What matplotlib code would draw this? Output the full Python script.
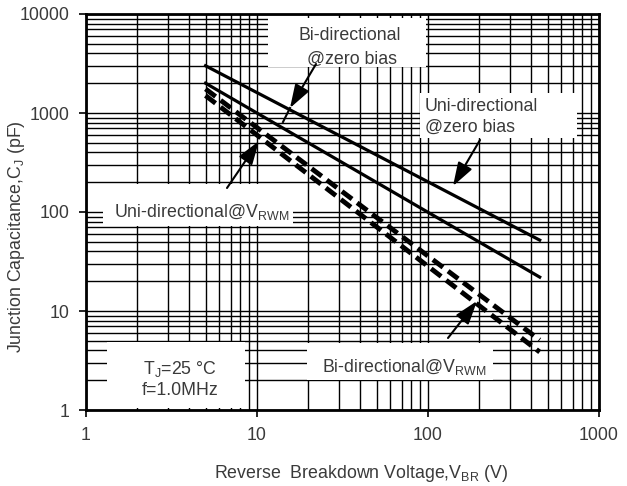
"""
Junction capacitance vs reverse breakdown voltage
"""

import matplotlib as mpl
mpl.use("Agg")
import matplotlib.pyplot as plt
from matplotlib.patches import Rectangle

plt.rcParams["font.family"] = ["Liberation Sans", "DejaVu Sans"]
plt.rcParams["mathtext.fontset"] = "custom"
plt.rcParams["mathtext.rm"] = "Liberation Sans"
plt.rcParams["mathtext.it"] = "Liberation Sans:italic"

# values (end points of each straight log-log line)
vbr = [5, 450]
uni_zero_bias = [3000, 52]
bi_zero_bias = [2000, 22]
uni_vrwm = [1750, 5.1]
bi_vrwm = [1500, 3.85]

x_ticks = [1, 10, 100, 1000]
y_ticks = [1, 10, 100, 1000, 10000]

TXT = "#3a3a3a"

# reference pixel frame -> axes fraction
X0, X1, Y0, Y1 = 86, 599, 410, 14
def fx(px): return (px - X0) / (X1 - X0)
def fy(py): return (Y0 - py) / (Y0 - Y1)

fig = plt.figure(figsize=(6.27, 4.86), dpi=100)
ax = fig.add_axes([86 / 627, 76 / 486, 513 / 627, 396 / 486])
ax.set_xscale("log")
ax.set_yscale("log")
ax.set_xlim(1, 1000)
ax.set_ylim(1, 10000)
ax.set_axisbelow(True)
ax.grid(which="both", color="black", lw=1.0)

fs = 12.8
ax.set_xticks(x_ticks, [str(t) for t in x_ticks])
ax.set_yticks(y_ticks, [str(t) for t in y_ticks])
ax.tick_params(which="major", direction="out", length=5, width=1.2, colors="black",
               labelcolor=TXT, labelsize=fs)
ax.tick_params(axis="x", pad=7)
ax.tick_params(axis="y", pad=7)
ax.tick_params(which="minor", length=0)
for s in ax.spines.values():
    s.set_linewidth(2)

# white label boxes cutting the grid
boxes = [(268, 18, 426, 67), (420, 93, 577, 138), (103, 184, 293, 226),
         (307, 343, 493, 380), (107, 342, 245, 408)]
for l, t, r, b in boxes:
    ax.add_patch(Rectangle((fx(l), fy(b)), fx(r) - fx(l), fy(t) - fy(b),
                           transform=ax.transAxes, fc="white", ec="none", zorder=1))

dash = (0, (2.6, 1.3))
ax.plot(vbr, uni_zero_bias, color="black", lw=2.3, zorder=3)
ax.plot(vbr, bi_zero_bias, color="black", lw=2.3, zorder=3)
ax.plot(vbr, uni_vrwm, color="black", lw=3.5, ls=dash, zorder=3)
ax.plot(vbr, bi_vrwm, color="black", lw=3.5, ls=dash, zorder=3)

def label(px, py, s, ha="center"):
    ax.text(fx(px), fy(py), s, transform=ax.transAxes, ha=ha, va="center",
            fontsize=fs, color=TXT, zorder=4)

label(350, 36, "Bi-directional")
label(352, 59, "@zero bias")
label(425, 106, "Uni-directional", ha="left")
label(425, 127, "@zero bias", ha="left")
label(202, 212, "Uni-directional@V$_{\\mathrm{RWM}}$")
label(404, 367, "Bi-directional@V$_{\\mathrm{RWM}}$")
label(180, 369, "T$_{\\mathrm{J}}$=25 °C")
label(180, 390, "f=1.0MHz")

arrow = dict(arrowstyle="-|>,head_length=0.9,head_width=0.3", color="black", lw=1.5,
             mutation_scale=16, shrinkA=0, shrinkB=0)
def pointer(tail, head):
    ax.annotate("", xy=(fx(head[0]), fy(head[1])), xycoords="axes fraction",
                xytext=(fx(tail[0]), fy(tail[1])), textcoords="axes fraction",
                arrowprops=arrow, zorder=5)

pointer((316, 64), (290, 108))
ax.plot([fx(290), fx(283)], [fy(108), fy(122)], transform=ax.transAxes, color="black", lw=1.5, zorder=5)
pointer((480, 140), (453, 186))
pointer((227, 188), (259, 141))
pointer((448, 338), (477, 301))

ax.set_xlabel("Reverse  Breakdown Voltage,V$_{\\mathrm{BR}}$ (V)", fontsize=fs, color=TXT)
ax.set_ylabel("Junction Capacitance,C$_{\\mathrm{J}}$ (pF)", fontsize=fs, color=TXT)
ax.xaxis.set_label_coords(fx(361), fy(463))
ax.yaxis.set_label_coords(fx(27), fy(237))

fig.savefig("out.png", dpi=100)
